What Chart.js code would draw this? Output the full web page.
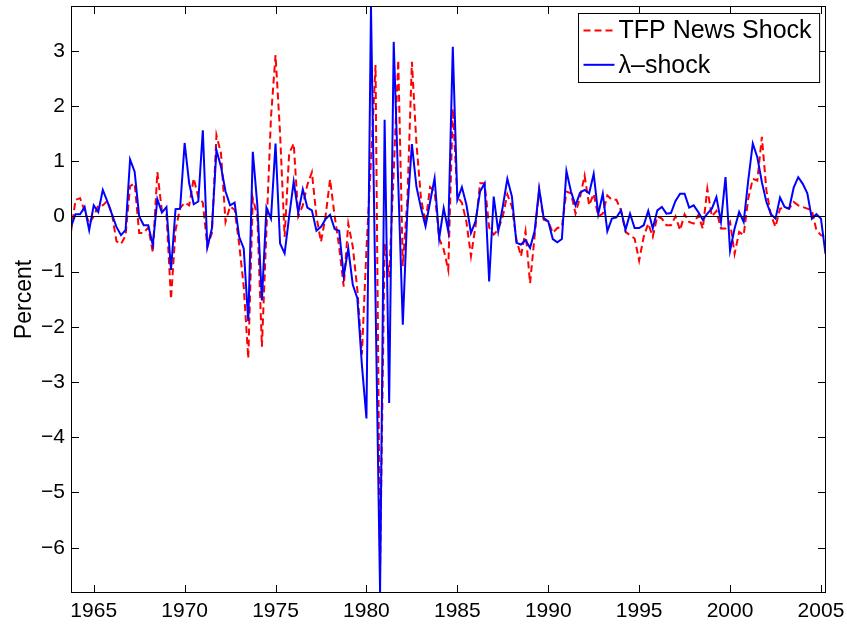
<!DOCTYPE html>
<html>
<head>
<meta charset="utf-8">
<script src="https://cdn.jsdelivr.net/npm/chart.js@4/dist/chart.umd.min.js"></script>
<style>
  html, body { margin: 0; padding: 0; background: #fff; }
  canvas { display: block; }
</style>
</head>
<body>
<canvas id="chart" width="847" height="624"></canvas>
<script>
// quarterly sample, first observation 1963Q4
const startYear = 1963.75;

const tfpNews = [
  -0.28, 0.3, 0.33, 0.1, -0.13, 0.0, 0.2, 0.2, 0.28, 0.05,
  -0.45, -0.5, -0.35, 0.55, 0.6, -0.3, -0.3, -0.2, -0.65, 0.8,
  0.1, 0.05, -1.5, -0.25, 0.15, 0.25, 0.2, 0.69, 0.35, 0.25,
  -0.55, -0.3, 1.47, 1.14, -0.1, 0.18, 0.12, -0.5, -1.27, -2.57,
  0.33, 0.0, -2.36, -0.25, 1.8, 2.92, 1.5, -0.37, 1.14, 1.32,
  0.0, 0.2, 0.57, 0.8, 0.0, -0.46, 0.0, 0.67, 0.01, -0.55,
  -1.27, -0.13, -0.55, -1.33, -2.5, -0.6, 1.0, 2.74, -6.4, -0.5,
  -1.1, 0.8, 2.83, -0.9, 0.3, 2.8, 1.32, 0.33, -0.12, 0.53,
  0.45, -0.4, -0.6, -0.97, 1.95, 0.35, 0.25, -0.1, -0.72, -0.18,
  0.6, 0.6, -0.2, -0.33, -0.24, 0.0, 0.4, 0.18, -0.42, -0.72,
  -0.27, -1.21, -0.36, 0.48, -0.06, -0.09, -0.3, -0.21, -0.19, 0.45,
  0.42, 0.05, 0.35, 0.74, 0.2, 0.41, 0.0, 0.05, 0.38, 0.3,
  0.3, 0.11, -0.28, -0.34, -0.4, -0.8, -0.37, -0.13, -0.37, 0.0,
  -0.04, -0.16, -0.16, 0.0, -0.25, 0.04, -0.1, -0.13, 0.02, -0.22,
  0.5, 0.0, 0.1, -0.22, -0.22, -0.1, -0.68, -0.28, -0.34, 0.32,
  0.68, 0.65, 1.44, 0.47, 0.02, -0.19, 0.14, 0.16, 0.14, 0.26,
  0.2, 0.17, 0.14, 0.11, -0.25, -0.34, -0.37
];

const lambdaShock = [
  -0.19, 0.04, 0.04, 0.17, -0.25, 0.2, 0.08, 0.48, 0.27, 0.04,
  -0.19, -0.34, -0.25, 1.03, 0.81, 0.0, -0.16, -0.16, -0.52, 0.31,
  0.07, 0.17, -0.97, 0.13, 0.14, 1.33, 0.6, 0.22, 0.27, 1.56,
  -0.56, -0.22, 1.2, 0.9, 0.45, 0.2, 0.25, -0.37, -0.58, -1.9,
  1.17, 0.2, -1.52, 0.16, -0.04, 1.32, -0.49, -0.67, 0.0, 0.63,
  0.07, 0.49, 0.16, 0.11, -0.26, -0.19, -0.05, 0.03, -0.23, -0.26,
  -1.08, -0.58, -1.24, -1.48, -2.69, -3.66, 3.81, -1.5, -6.82, 1.75,
  -3.38, 3.16, 0.6, -1.96, 0.1, 1.31, 0.54, 0.15, -0.18, 0.26,
  0.69, -0.4, 0.15, -0.27, 3.07, 0.3, 0.53, 0.21, -0.3, -0.09,
  0.45, 0.6, -1.18, 0.36, -0.27, 0.18, 0.68, 0.36, -0.48, -0.51,
  -0.43, -0.57, -0.27, 0.5, -0.03, -0.09, -0.41, -0.47, -0.41, 0.82,
  0.45, 0.2, 0.43, 0.48, 0.42, 0.77, 0.04, 0.41, -0.27, -0.04,
  -0.02, 0.11, -0.24, 0.05, -0.21, -0.21, -0.16, 0.1, -0.22, 0.11,
  0.17, 0.05, 0.06, 0.28, 0.41, 0.41, 0.16, 0.2, 0.08, -0.06,
  0.05, 0.14, 0.35, -0.1, 0.71, -0.62, -0.22, 0.08, -0.1, 0.65,
  1.32, 1.07, 0.62, 0.26, 0.04, -0.04, 0.34, 0.17, 0.14, 0.52,
  0.71, 0.59, 0.42, -0.04, 0.04, -0.04, -0.68
];

const xTicks = [1965, 1970, 1975, 1980, 1985, 1990, 1995, 2000, 2005];
const yTicks = [-6, -5, -4, -3, -2, -1, 0, 1, 2, 3];
const seriesNames = ["TFP News Shock", "\u03bb\u2013shock"];

const dates = lambdaShock.map((_, i) => startYear + i / 4);
const toPoints = (vals) => vals.map((v, i) => ({ x: dates[i], y: v }));

const FONT = "'Liberation Sans', Arial, Helvetica, sans-serif";

// box, inward ticks, zero line and legend drawn matlab-style
const matlabAxes = {
  id: "matlabAxes",
  afterDatasetsDraw(chart) {
    const { ctx, chartArea: a, scales: { x, y } } = chart;
    ctx.save();
    ctx.strokeStyle = "#000";
    ctx.lineWidth = 1;

    const y0 = Math.round(y.getPixelForValue(0)) + 0.5;
    ctx.beginPath();
    ctx.moveTo(a.left, y0);
    ctx.lineTo(a.right, y0);
    ctx.stroke();

    const L = Math.round(a.left) + 0.5, R = Math.round(a.right) - 0.5;
    const T = Math.round(a.top) + 0.5, B = Math.round(a.bottom) - 0.5;
    ctx.strokeRect(L, T, R - L, B - T);

    const len = 7.5;
    ctx.beginPath();
    x.ticks.forEach(t => {
      const px = Math.round(x.getPixelForValue(t.value)) + 0.5;
      ctx.moveTo(px, B); ctx.lineTo(px, B - len);
      ctx.moveTo(px, T); ctx.lineTo(px, T + len);
    });
    y.ticks.forEach(t => {
      const py = Math.round(y.getPixelForValue(t.value)) + 0.5;
      ctx.moveTo(L, py); ctx.lineTo(L + len, py);
      ctx.moveTo(R, py); ctx.lineTo(R - len, py);
    });
    ctx.stroke();

    // legend
    ctx.font = "25px " + FONT;
    const ds = chart.data.datasets.filter(d => d.label);
    const textW = Math.max(...ds.map(d => ctx.measureText(d.label).width));
    const boxR = Math.round(a.right - 6.5) + 0.5;
    const boxT = Math.round(a.top + 7) + 0.5;
    const boxW = 40 + textW + 8;
    const boxH = 69;
    const boxL = Math.round(boxR - boxW) + 0.5;
    ctx.fillStyle = "#fff";
    ctx.fillRect(boxL, boxT, boxW, boxH);
    ctx.strokeRect(boxL, boxT, boxW, boxH);
    ctx.textBaseline = "middle";
    ctx.textAlign = "left";
    ds.forEach((d, i) => {
      const ry = boxT + 17 + i * 34.3;
      ctx.save();
      ctx.strokeStyle = d.borderColor;
      ctx.lineWidth = 2;
      ctx.setLineDash(d.borderDash || []);
      ctx.beginPath();
      ctx.moveTo(boxL + 5, ry);
      ctx.lineTo(boxL + 36, ry);
      ctx.stroke();
      ctx.restore();
      ctx.fillStyle = "#000";
      ctx.fillText(d.label, boxL + 40, ry + 1);
    });
    ctx.restore();
  }
};

new Chart(document.getElementById("chart"), {
  type: "line",
  data: {
    datasets: [
      {
        label: seriesNames[0],
        data: toPoints(tfpNews),
        borderColor: "#ff0000",
        borderWidth: 2,
        borderDash: [7, 4],
        pointRadius: 0,
        tension: 0,
        clip: 0,
        order: 1
      },
      {
        label: seriesNames[1],
        data: toPoints(lambdaShock),
        borderColor: "#0000ff",
        borderWidth: 2,
        pointRadius: 0,
        tension: 0,
        clip: 0,
        order: 0
      }
    ]
  },
  options: {
    responsive: false,
    devicePixelRatio: 1,
    animation: false,
    layout: { padding: { left: 0, right: 21.5, top: 6, bottom: 0 } },
    plugins: {
      legend: { display: false },
      tooltip: { enabled: false }
    },
    scales: {
      x: {
        type: "linear",
        min: startYear,
        max: 2005.25,
        grid: { display: false, drawTicks: false },
        border: { display: false },
        ticks: {
          autoSkip: false,
          maxRotation: 0,
          padding: 6,
          color: "#000",
          font: { family: FONT, size: 21 },
          callback: v => String(v)
        },
        afterBuildTicks: s => { s.ticks = xTicks.map(v => ({ value: v })); },
        afterFit: s => { s.height = 31; s.paddingLeft = 0; s.paddingRight = 0; }
      },
      y: {
        type: "linear",
        min: -6.82,
        max: 3.81,
        grid: { display: false, drawTicks: false },
        border: { display: false },
        ticks: {
          padding: 6,
          color: "#000",
          font: { family: FONT, size: 21 },
          callback: v => (v < 0 ? "\u2212" + Math.abs(v) : String(v))
        },
        title: {
          display: true,
          text: "Percent",
          color: "#000",
          font: { family: FONT, size: 23 },
          padding: { top: 11, bottom: 0 }
        },
        afterBuildTicks: s => { s.ticks = yTicks.map(v => ({ value: v })); },
        afterFit: s => { s.width = 71; s.paddingTop = 0; s.paddingBottom = 0; }
      }
    }
  },
  plugins: [matlabAxes]
});
</script>
</body>
</html>
